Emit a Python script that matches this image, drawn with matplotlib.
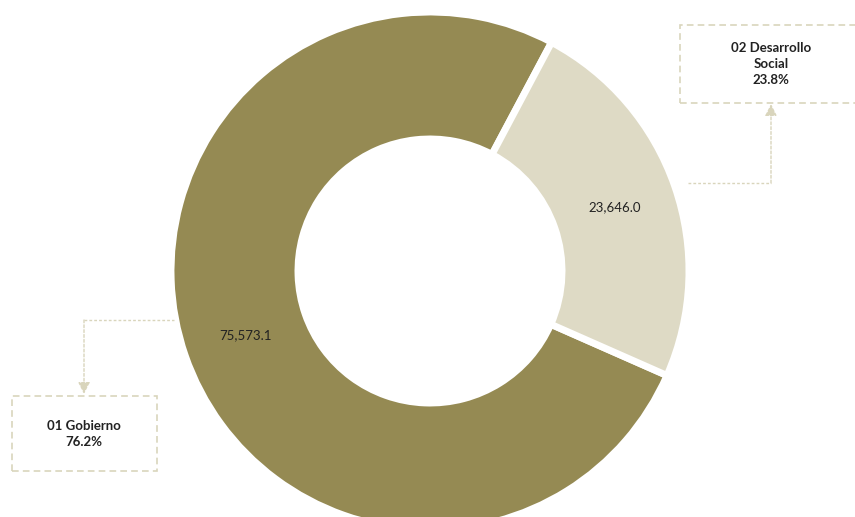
import matplotlib
matplotlib.use("Agg")
import matplotlib.pyplot as plt
from matplotlib.patches import Rectangle

categories = ["01 Gobierno", "02 Desarrollo Social"]
values = [75573.1, 23646.0]
value_labels = ["75,573.1", "23,646.0"]
pct_labels = ["76.2%", "23.8%"]
colors = ["#958A53", "#DEDAC5"]
box_edge = "#D9D5BC"

plt.rcParams['font.family'] = ['Lato', 'DejaVu Sans']

W, H = 855, 517
fig = plt.figure(figsize=(W / 100, H / 100), dpi=100)
ax = fig.add_axes([0, 0, 1, 1])


def Y(py):
    return H - py


cx, cy, R, r_in = 430, 271, 259, 132
wedges, texts = ax.pie(values, colors=colors, startangle=62.0, counterclock=True,
                       center=(cx, Y(cy)), radius=R, labels=value_labels,
                       labeldistance=0.755,
                       wedgeprops=dict(width=R - r_in, edgecolor='white', linewidth=5),
                       textprops=dict(fontsize=9.5, color='#222222', va='center'),
                       frame=True)
for t in texts:
    t.set_ha('center')
ax.set_xlim(0, W)
ax.set_ylim(0, H)
ax.axis('off')


def box(x0, y0, x1, y1):
    ax.add_patch(Rectangle((x0, Y(y1)), x1 - x0, y1 - y0, fill=False, edgecolor=box_edge,
                           linewidth=1.2, linestyle=(0, (4, 2.5)), clip_on=False))


box(680, 25, 862, 103)
box(12, 396, 157, 471)

ax.text(771, Y(63.5), "02 Desarrollo\nSocial\n" + pct_labels[1],
        ha='center', va='center', fontsize=9.5, fontweight='bold',
        color='#222222', linespacing=1.4)
ax.text(84, Y(434), categories[0] + "\n" + pct_labels[0], ha='center', va='center',
        fontsize=9.5, fontweight='bold', color='#222222', linespacing=1.4)

# connectors
ax.plot([688, 771], [Y(183), Y(183)], color=box_edge, lw=1, ls=(0, (2, 1.5)))
ax.annotate("", xy=(771, Y(104)), xytext=(771, Y(183)),
            arrowprops=dict(arrowstyle='-|>,head_length=0.7,head_width=0.35', color=box_edge,
                            lw=1, ls=(0, (2, 1.5)), shrinkA=0, shrinkB=0))
ax.plot([84, 174], [Y(320), Y(320)], color=box_edge, lw=1, ls=(0, (2, 1.5)))
ax.annotate("", xy=(84, Y(394)), xytext=(84, Y(320)),
            arrowprops=dict(arrowstyle='-|>,head_length=0.7,head_width=0.35', color=box_edge,
                            lw=1, ls=(0, (2, 1.5)), shrinkA=0, shrinkB=0))

fig.savefig("out.png", dpi=100)
